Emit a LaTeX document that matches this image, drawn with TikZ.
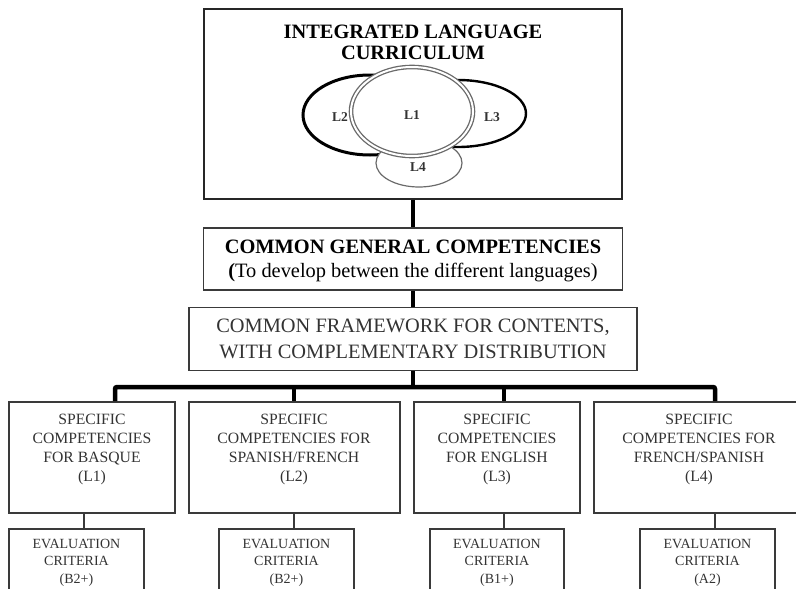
\documentclass[tikz,border=0pt]{standalone}
\usepackage{fontspec}
\setmainfont{Liberation Serif}
\usetikzlibrary{shapes.geometric}
\definecolor{boxgray}{HTML}{3A3A3A}
\definecolor{txtgray}{HTML}{333333}
\definecolor{ringgray}{HTML}{6A6A6A}
\begin{document}
\begin{tikzpicture}[x=1pt,y=-1pt,
  box/.style={draw=boxgray, line width=1.6pt, fill=white, inner sep=0pt, rectangle},
  bigtxt/.style={font=\fontsize{20.4}{24}\selectfont, align=center, inner sep=0pt},
  spectxt/.style={font=\fontsize{15.7}{19}\selectfont, align=center, inner sep=0pt, text=txtgray},
  evaltxt/.style={font=\fontsize{14}{17.5}\selectfont, align=center, inner sep=0pt, text=txtgray},
  lab/.style={font=\fontsize{13.5}{14}\selectfont\bfseries, inner sep=0pt, text=txtgray},
  thick link/.style={line width=4.5pt, draw=black},
  thin link/.style={line width=1.5pt, draw=boxgray}]
\useasboundingbox (0,0) rectangle (796,589);
\clip (0,0) rectangle (796,589);
\fill[white] (0,0) rectangle (796,589);

% top box
\node[box, line width=2pt, draw=black!85, minimum width=418pt, minimum height=190pt] (top) at (413,104) {};
\node[bigtxt, font=\fontsize{20.4}{21}\selectfont\bfseries] (title) at (413,42.5) {INTEGRATED LANGUAGE\\CURRICULUM};

% ellipses
\node[ellipse, draw=black, line width=3pt, fill=white, minimum width=134pt, minimum height=80pt, inner sep=0pt] (e2) at (370,115) {};
\node[ellipse, draw=black, line width=2.4pt, fill=white, minimum width=136pt, minimum height=67pt, inner sep=0pt] (e3) at (458,113.5) {};
\node[ellipse, draw=ringgray, line width=1.2pt, fill=white, minimum width=86pt, minimum height=48pt, inner sep=0pt] (e4) at (419,163) {};
\node[ellipse, draw=ringgray, line width=1.3pt, double=white, double distance=2pt, fill=white, minimum width=122pt, minimum height=89pt, inner sep=0pt] (e1) at (412,111.5) {};
\node[lab] (l1) at (412,115) {L1};
\node[lab] (l2) at (340,117) {L2};
\node[lab] (l3) at (492,117) {L3};
\node[lab] (l4) at (418,167) {L4};

% box 2
\node[box, minimum width=419pt, minimum height=62pt] (b2) at (413,259) {};
\node[bigtxt] (b2t) at (413,261) {\textbf{COMMON GENERAL COMPETENCIES}\\{\bfseries(}To develop between the different languages)};

% box 3
\node[box, minimum width=448pt, minimum height=63pt] (b3) at (413,339) {};
\node[bigtxt, font=\fontsize{20.4}{26}\selectfont, text=txtgray] (b3t) at (413,339) {COMMON FRAMEWORK FOR CONTENTS,\\WITH COMPLEMENTARY DISTRIBUTION};

% specific boxes
\node[box, minimum width=166pt, minimum height=111pt] (spA) at (92,457.5) {};
\node[box, minimum width=211pt, minimum height=111pt] (spB) at (294.5,457.5) {};
\node[box, minimum width=166pt, minimum height=111pt] (spC) at (497,457.5) {};
\node[box, minimum width=210pt, minimum height=111pt] (spD) at (699,457.5) {};
\node[spectxt] (spAt) at (92,449.5) {SPECIFIC\\COMPETENCIES\\FOR BASQUE\\(L1)};
\node[spectxt] (spBt) at (294,449.5) {SPECIFIC\\COMPETENCIES FOR\\SPANISH/FRENCH\\(L2)};
\node[spectxt] (spCt) at (497,449.5) {SPECIFIC\\COMPETENCIES\\FOR ENGLISH\\(L3)};
\node[spectxt] (spDt) at (699,449.5) {SPECIFIC\\COMPETENCIES FOR\\FRENCH/SPANISH\\(L4)};

% evaluation boxes
\node[box, minimum width=135pt, minimum height=91pt] (evA) at (76.5,574.5) {};
\node[box, minimum width=135pt, minimum height=91pt] (evB) at (286.5,574.5) {};
\node[box, minimum width=134pt, minimum height=91pt] (evC) at (497,574.5) {};
\node[box, minimum width=135pt, minimum height=91pt] (evD) at (707.5,574.5) {};
\node[evaltxt] (evAt) at (76.5,562.5) {EVALUATION\\CRITERIA\\(B2+)};
\node[evaltxt] (evBt) at (286.5,562.5) {EVALUATION\\CRITERIA\\(B2+)};
\node[evaltxt] (evCt) at (497,562.5) {EVALUATION\\CRITERIA\\(B1+)};
\node[evaltxt] (evDt) at (707.5,562.5) {EVALUATION\\CRITERIA\\(A2)};

% connectors
\coordinate (barL) at (115,387);
\coordinate (barB) at (294,387);
\coordinate (barC) at (504,387);
\coordinate (barR) at (715,387);
\draw[thick link] (top.south) -- (b2.north);
\draw[thick link] (b2.south) -- (b3.north);
\draw[thick link] (b3.south) -- (b3.south |- barL);
\draw[thick link, rounded corners=2pt] (barL |- spA.north) -- (barL) -- (barR) -- (barR |- spD.north);
\draw[thick link] (barB) -- (barB |- spB.north);
\draw[thick link] (barC) -- (barC |- spC.north);

\coordinate (cA) at (84,0);
\coordinate (cB) at (294,0);
\coordinate (cC) at (504,0);
\coordinate (cD) at (715,0);
\draw[thin link] (spA.south -| cA) -- (evA.north -| cA);
\draw[thin link] (spB.south -| cB) -- (evB.north -| cB);
\draw[thin link] (spC.south -| cC) -- (evC.north -| cC);
\draw[thin link] (spD.south -| cD) -- (evD.north -| cD);
\end{tikzpicture}
\end{document}
